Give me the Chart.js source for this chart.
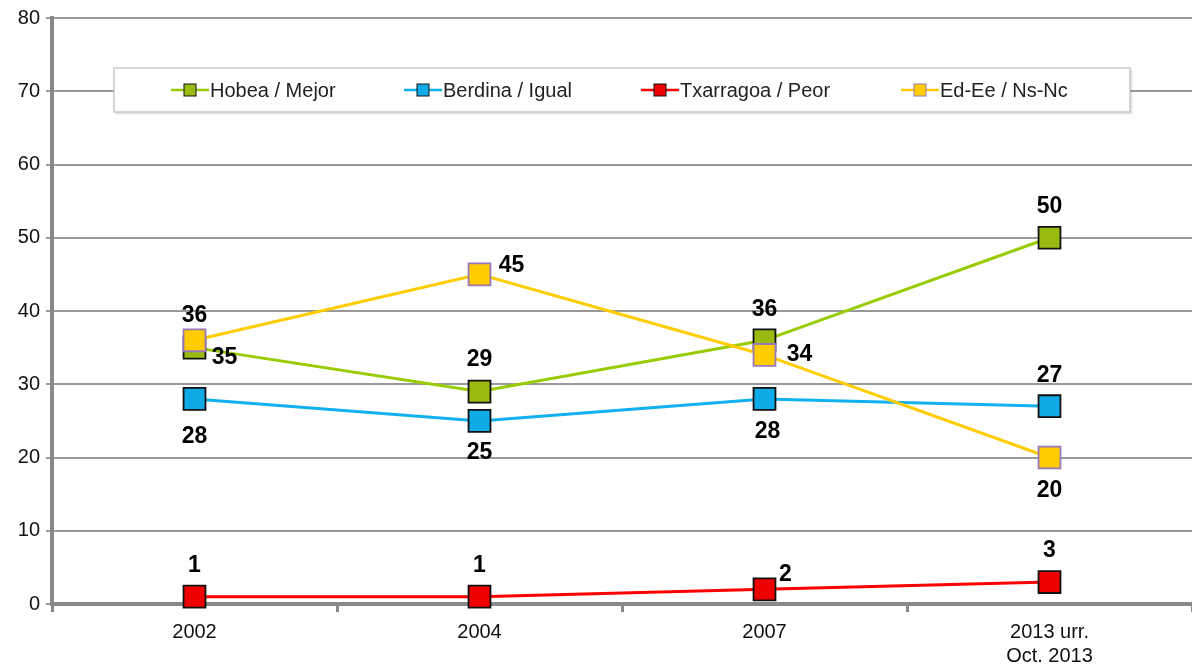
<!DOCTYPE html>
<html>
<head>
<meta charset="utf-8">
<script src="https://cdn.jsdelivr.net/npm/chart.js@4/dist/chart.umd.min.js"></script>
<style>
  html, body { margin: 0; padding: 0; background: #fff; }
  #wrap { width: 1192px; height: 668px; position: relative; }
</style>
</head>
<body>
<div id="wrap"><canvas id="myChart" width="1192" height="668"></canvas></div>
<script>
// categories and series
const years = ['2002', '2004', '2007', ['2013 urr.', 'Oct. 2013']];
const seriesNames = ['Hobea / Mejor', 'Berdina / Igual', 'Txarragoa / Peor', 'Ed-Ee / Ns-Nc'];
const hobea = [35, 29, 36, 50];
const berdina = [28, 25, 28, 27];
const txarragoa = [1, 1, 2, 3];
const edee = [36, 45, 34, 20];
const yTicks = [0, 10, 20, 30, 40, 50, 60, 70, 80];

// where each value label sits relative to its point (px)
const labelOffsets = [
    [[30, 10], [0, -32], [0, -31], [0, -31]],
    [[0, 38], [0, 32], [3, 33], [0, -31]],
    [[0, -31], [0, -31], [21, -15], [0, -31]],
    [[0, -25], [32, -9], [35, 0], [0, 33]]
];

const lineColors = ['#99cc00', '#11b0ee', '#ff0000', '#ffcc00'];
const fillColors = ['#99bb11', '#11aae8', '#ee0000', '#ffcc00'];
const edgeColors = ['#111', '#111', '#111', '#9977bb'];
const fontFam = '"Liberation Sans", Arial, sans-serif';

const valueLabels = {
    id: 'valueLabels',
    afterDatasetsDraw(chart) {
        const ctx = chart.ctx;
        ctx.save();
        ctx.font = 'bold 23px ' + fontFam;
        ctx.fillStyle = '#000';
        ctx.textAlign = 'center';
        ctx.textBaseline = 'middle';
        chart.data.datasets.forEach((ds, i) => {
            const meta = chart.getDatasetMeta(i);
            meta.data.forEach((pt, j) => {
                const off = labelOffsets[i][j];
                ctx.fillText(String(ds.data[j]), pt.x + off[0], pt.y + off[1]);
            });
        });
        ctx.restore();
    }
};

const boxLegend = {
    id: 'boxLegend',
    afterDraw(chart) {
        const ctx = chart.ctx;
        ctx.save();
        ctx.shadowColor = 'rgba(0,0,0,0.15)';
        ctx.shadowOffsetX = 2;
        ctx.shadowOffsetY = 2;
        ctx.shadowBlur = 2;
        ctx.fillStyle = '#fff';
        ctx.fillRect(114, 68, 1016, 44);
        ctx.shadowColor = 'transparent';
        ctx.strokeStyle = '#c8c8c8';
        ctx.lineWidth = 1.5;
        ctx.strokeRect(114, 68, 1016, 44);

        const markX = [190, 423, 660, 920];
        ctx.font = '20px ' + fontFam;
        ctx.textBaseline = 'middle';
        ctx.textAlign = 'left';
        seriesNames.forEach((name, i) => {
            const cx = markX[i], cy = 90;
            ctx.strokeStyle = lineColors[i];
            ctx.lineWidth = 2.5;
            ctx.beginPath();
            ctx.moveTo(cx - 19, cy);
            ctx.lineTo(cx + 19, cy);
            ctx.stroke();
            ctx.fillStyle = fillColors[i];
            ctx.fillRect(cx - 6, cy - 6, 12, 12);
            ctx.strokeStyle = edgeColors[i];
            ctx.lineWidth = 1;
            ctx.strokeRect(cx - 6, cy - 6, 12, 12);
            ctx.fillStyle = '#222';
            ctx.fillText(name, cx + 20, cy + 1);
        });
        ctx.restore();
    }
};

const allSeries = [hobea, berdina, txarragoa, edee];

const config = {
    type: 'line',
    data: {
        labels: years,
        datasets: allSeries.map((vals, i) => ({
            label: seriesNames[i],
            data: vals,
            borderColor: lineColors[i],
            borderWidth: 3,
            pointStyle: 'rect',
            pointRadius: 15.5,
            pointHoverRadius: 15.5,
            pointBackgroundColor: fillColors[i],
            pointBorderColor: edgeColors[i],
            pointBorderWidth: 1.8,
            tension: 0,
            fill: false,
            clip: false,
            order: i === 3 ? 0 : 1
        }))
    },
    options: {
        responsive: false,
        animation: false,
        layout: { autoPadding: false, padding: { top: 18, right: 0, left: 0, bottom: 0 } },
        plugins: {
            legend: { display: false },
            tooltip: { enabled: false }
        },
        scales: {
            x: {
                offset: true,
                grid: {
                    offset: true,
                    drawOnChartArea: false,
                    drawTicks: true,
                    tickLength: 8,
                    color: '#888',
                    lineWidth: 3
                },
                border: { color: '#888', width: 4 },
                ticks: {
                    color: '#111',
                    font: { family: fontFam, size: 20, lineHeight: 1.2 },
                    padding: 8,
                    maxRotation: 0
                },
                afterFit(scale) {
                    scale.height = 64;
                    scale.paddingLeft = 0;
                    scale.paddingRight = 0;
                }
            },
            y: {
                min: 0,
                max: 80,
                afterBuildTicks(scale) { scale.ticks = yTicks.map(v => ({ value: v })); },
                grid: {
                    color: '#999',
                    lineWidth: 2,
                    tickLength: 6
                },
                border: { color: '#888', width: 4 },
                ticks: {
                    color: '#111',
                    font: { family: fontFam, size: 20 },
                    padding: 6
                },
                afterFit(scale) { scale.width = 52; }
            }
        }
    },
    plugins: [valueLabels, boxLegend]
};

new Chart(document.getElementById('myChart'), config);
</script>
</body>
</html>
